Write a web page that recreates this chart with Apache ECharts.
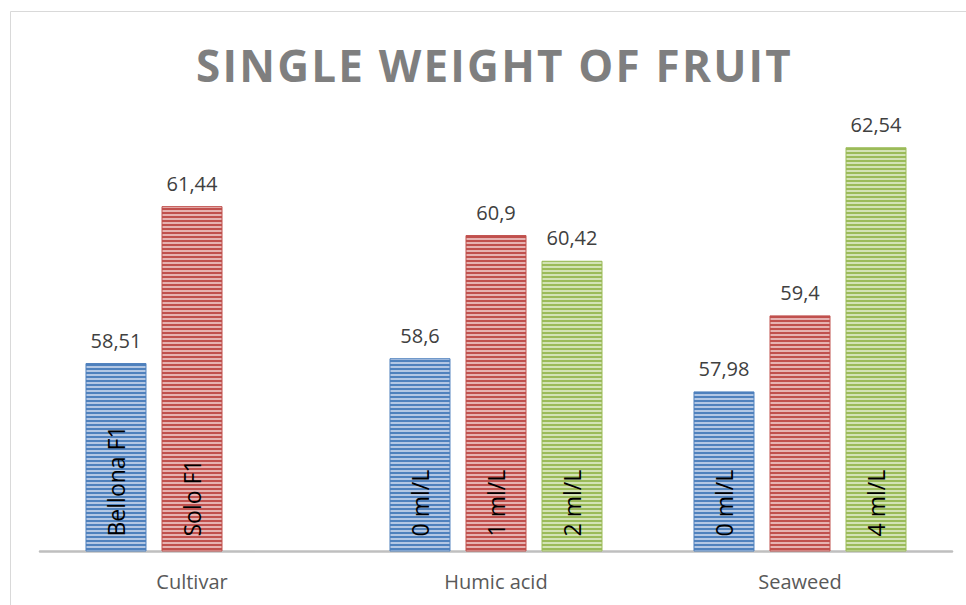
<!DOCTYPE html>
<html>
<head>
<meta charset="utf-8">
<script src="https://cdn.jsdelivr.net/npm/echarts@6/dist/echarts.min.js"></script>
<style>
  html, body { margin: 0; padding: 0; background: #fff; }
  #chart { width: 966px; height: 605px; }
</style>
</head>
<body>
<div id="chart"></div>
<script>
// data
var categories = ['Cultivar', 'Humic acid', 'Seaweed'];
var slot1Values = [58.51, 58.6, 57.98];
var slot2Values = [61.44, 60.9, 59.4];
var slot3Values = [null, 60.42, 62.54];
var slot1Names = ['Bellona F1', '0 ml/L', '0 ml/L'];
var slot2Names = ['Solo F1', '1 ml/L', ''];
var slot3Names = ['', '2 ml/L', '4 ml/L'];
var titleText = 'SINGLE WEIGHT OF FRUIT';

//striped fill like the excel pattern
function stripes(dark, light) {
    var c = document.createElement('canvas');
    c.width = 4;
    c.height = 4;
    var ctx = c.getContext('2d');
    ctx.fillStyle = light;
    ctx.fillRect(0, 0, 4, 4);
    ctx.fillStyle = dark;
    ctx.fillRect(0, 0, 4, 2);
    return { image: c, repeat: 'repeat' };
}

var comma = function (v) {
    return String(v).replace('.', ',');
};

function makeSeries(values, names, dark, light) {
    return {
        type: 'bar',
        barWidth: 61,
        barGap: '24.6%',
        data: values.map(function (v, i) {
            return { value: v, name: names[i] };
        }),
        itemStyle: {
            color: stripes(dark, light),
            borderColor: dark,
            borderWidth: 1
        },
        label: {
            show: true,
            position: 'insideBottom',
            rotate: 90,
            align: 'left',
            verticalAlign: 'middle',
            distance: 15,
            color: '#000',
            fontSize: 23,
            fontFamily: 'Open Sans',
            formatter: function (p) { return p.data.name; }
        },
        markPoint: {
            symbol: 'rect',
            symbolSize: 2,
            itemStyle: { color: 'rgba(0,0,0,0)' },
            label: {
                show: true,
                position: 'top',
                distance: 12,
                color: '#404040',
                fontSize: 20,
                fontFamily: 'Open Sans',
                formatter: function (p) { return comma(p.value); }
            },
            data: values.map(function (v, i) {
                return v == null ? null : { coord: [i, v], value: v };
            }).filter(function (d) { return d; })
        },
        animation: false
    };
}

var chart = echarts.init(document.getElementById('chart'), null, { renderer: 'svg' });
var option = {
    animation: false,
    title: {
        text: titleText,
        left: 191,
        top: 38,
        textStyle: {
            color: '#7f7f7f',
            fontSize: 44,
            fontWeight: 'bold',
            fontFamily: 'Open Sans'
        }
    },
    graphic: [{
        type: 'rect',
        shape: { x: 10.5, y: 11.5, width: 1000, height: 1000 },
        style: { fill: 'none', stroke: '#d9d9d9', lineWidth: 1 },
        silent: true
    }],
    grid: { left: 40, right: 14, top: 122.6, bottom: 54 },
    xAxis: {
        type: 'category',
        data: categories,
        axisLine: { lineStyle: { color: '#bfbfbf', width: 2.5 } },
        axisTick: { show: false },
        axisLabel: {
            color: '#595959',
            fontSize: 20,
            fontFamily: 'Open Sans',
            margin: 20
        }
    },
    yAxis: {
        type: 'value',
        min: 55,
        max: 63,
        show: false,
        splitLine: { show: false }
    },
    series: [
        makeSeries(slot1Values, slot1Names, '#4f81bd', '#b3c7e4'),
        makeSeries(slot2Values, slot2Names, '#c0504d', '#e6b2b1'),
        makeSeries(slot3Values, slot3Names, '#9bbb59', '#d3e3b5')
    ]
};
chart.setOption(option);

// excel title is letter spaced, svg text takes css letter-spacing
var texts = document.querySelectorAll('#chart svg text');
for (var i = 0; i < texts.length; i++) {
    if (texts[i].textContent === titleText) {
        texts[i].style.letterSpacing = '2.2px';
    }
}
</script>
</body>
</html>
